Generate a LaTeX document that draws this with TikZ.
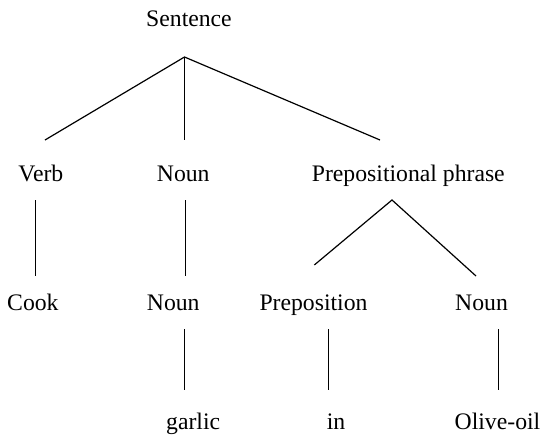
\documentclass[tikz,border=0pt]{standalone}
\usepackage{fontspec}
\setmainfont{Liberation Serif}
\begin{document}
\begin{tikzpicture}[x=1pt,y=-1pt,
  word/.style={anchor=base west,inner sep=0pt,font=\fontsize{23.7}{28}\selectfont},
  branch/.style={line width=1.2pt,line cap=butt}]
\useasboundingbox (0,0) rectangle (542,437);
% texts
\node[word] (sent) at (146,26.7) {Sentence};
\node[word] (verb) at (18.3,181.7) {Verb};
\node[word] (noun1) at (156.7,181.7) {Noun};
\node[word] (pp) at (311.7,181.7) {Prepositional phrase};
\node[word] (cook) at (7,310) {Cook};
\node[word] (noun2) at (146.7,310) {Noun};
\node[word] (prep) at (259.3,310) {Preposition};
\node[word] (noun3) at (455,310) {Noun};
\node[word] (garlic) at (166,429) {garlic};
\node[word] (in) at (326.7,429) {in};
\node[word] (olive) at (454.5,429) {Olive-oil};
% branch points
\coordinate (s0) at (184.5,57);
\coordinate (sv) at (45,140);
\coordinate (sn) at (184.5,140);
\coordinate (sp) at (380,140);
\coordinate (v0) at (35.5,200);
\coordinate (v1) at (35.5,276);
\coordinate (n0) at (185.5,200);
\coordinate (n1) at (185.5,276);
\coordinate (p0) at (392,200);
\coordinate (pl) at (314.3,265);
\coordinate (pr) at (476,276);
\coordinate (g0) at (184.5,329);
\coordinate (g1) at (184.5,390);
\coordinate (i0) at (328.5,329);
\coordinate (i1) at (328.5,390);
\coordinate (o0) at (498.5,329);
\coordinate (o1) at (498.5,390);
% connectors
\draw[branch] (sv) -- (s0) -- (sp);
\draw[branch] (s0) -- (sn);
\draw[branch] (v0) -- (v1);
\draw[branch] (n0) -- (n1);
\draw[branch] (pl) -- (p0) -- (pr);
\draw[branch] (g0) -- (g1);
\draw[branch] (i0) -- (i1);
\draw[branch] (o0) -- (o1);
\end{tikzpicture}
\end{document}
